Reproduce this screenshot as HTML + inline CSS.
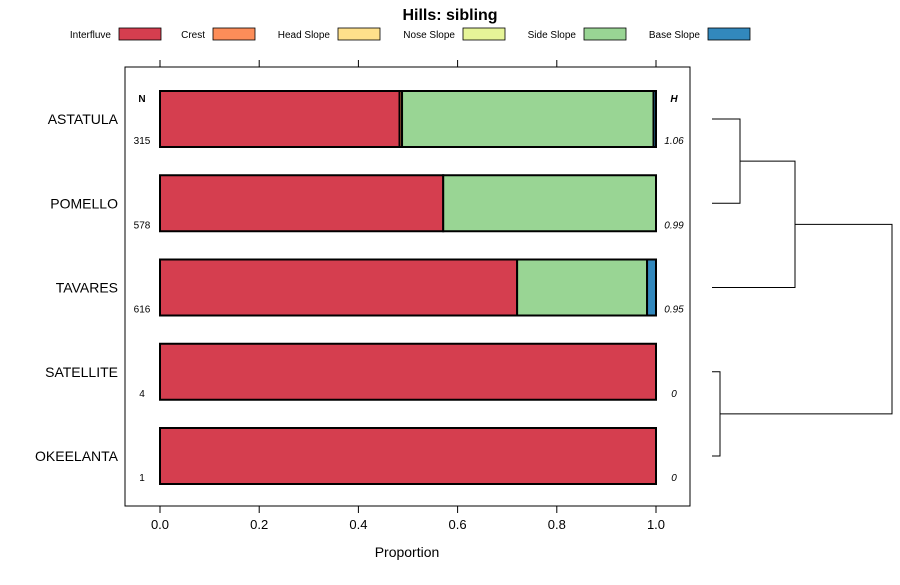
<!DOCTYPE html>
<html><head><meta charset="utf-8"><style>
body{margin:0;background:#fff;font-family:"Liberation Sans",sans-serif;}
svg text{font-family:"Liberation Sans",sans-serif;}
</style></head><body>
<svg id="c" width="900" height="580" xmlns="http://www.w3.org/2000/svg">
<text x="450" y="20" text-anchor="middle" font-size="16" font-weight="bold">Hills: sibling</text>
<g id="legend"></g>
<rect x="125" y="67" width="565" height="439" fill="none" stroke="#000"/>
<g id="axes"></g><g id="bars"></g><g id="dendro"></g>
<text x="407" y="557" text-anchor="middle" font-size="14">Proportion</text>
<text x="142" y="102" text-anchor="middle" font-size="10" font-weight="bold">N</text>
<text x="674" y="102" text-anchor="middle" font-size="10" font-weight="bold" font-style="italic">H</text>
</svg>
<script>
const categories=["ASTATULA","POMELLO","TAVARES","SATELLITE","OKEELANTA"];
const seriesNames=["Interfluve","Crest","Head Slope","Nose Slope","Side Slope","Base Slope"];
const colors=["#d53e4f","#fc8d59","#fee08b","#e6f598","#99d594","#3288bd"];
const interfluve=[0.483,0.571,0.72,1,1];
const crest=[0.005,0,0,0,0];
const headSlope=[0,0,0,0,0];
const noseSlope=[0,0,0,0,0];
const sideSlope=[0.507,0.429,0.262,0,0];
const baseSlope=[0.005,0,0.018,0,0];
const counts=[315,578,616,4,1];
const entropy=["1.06","0.99","0.95","0","0"];
const xTicks=[0,0.2,0.4,0.6,0.8,1.0];
const xTickLabels=["0.0","0.2","0.4","0.6","0.8","1.0"];
const series=[interfluve,crest,headSlope,noseSlope,sideSlope,baseSlope];
const NS="http://www.w3.org/2000/svg";
const x=v=>160+v*496;
const yc=i=>119+i*84.25;
function mk(tag,attrs,parent,txt){const e=document.createElementNS(NS,tag);for(const k in attrs)e.setAttribute(k,attrs[k]);if(txt!==undefined)e.textContent=txt;parent.appendChild(e);return e;}
const legend=document.getElementById('legend');
const legX=[111,205,330,455,576,700];
seriesNames.forEach((n,i)=>{
 const t=mk('text',{x:legX[i],y:38,'text-anchor':'end','font-size':10},legend,n);
 
 
 const r=mk('rect',{x:legX[i]+8,y:28,width:42,height:12,fill:colors[i],stroke:'#000','stroke-width':0.8},legend);
 
 
});
const axes=document.getElementById('axes');
xTicks.forEach((v,i)=>{
 mk('line',{x1:x(v),x2:x(v),y1:60,y2:67,stroke:'#000'},axes);
 mk('line',{x1:x(v),x2:x(v),y1:506,y2:513,stroke:'#000'},axes);
 const t=mk('text',{x:x(v),y:529,'text-anchor':'middle','font-size':13},axes,xTickLabels[i]);
 
 
});
const bars=document.getElementById('bars');
categories.forEach((c,i)=>{
 const lab=mk('text',{x:118,y:yc(i)+5,'text-anchor':'end','font-size':14},bars,c);
 
 
 let cum=0;
 series.forEach((s,j)=>{
  const v=s[i]; if(v<=0)return;
  const r=mk('rect',{x:x(cum),y:yc(i)-28,width:v*496,height:56,fill:colors[j],stroke:'#000','stroke-width':2},bars);
  
  
  cum+=v;
 });
 const n=mk('text',{x:142,y:yc(i)+25,'text-anchor':'middle','font-size':10},bars,counts[i]);
 
 
 const h=mk('text',{x:674,y:yc(i)+25,'text-anchor':'middle','font-size':10,'font-style':'italic'},bars,entropy[i]);
 
 
});
const d=document.getElementById('dendro');
const st={stroke:'#000','stroke-width':1,fill:'none'};
function L(pts){mk('polyline',Object.assign({points:pts.map(p=>p.join(',')).join(' ')},st),d);}
const y=yc;
L([[712,y(0)],[740,y(0)],[740,y(1)],[712,y(1)]]);
const m1=(y(0)+y(1))/2;
L([[740,m1],[795,m1],[795,y(2)],[712,y(2)]]);
L([[712,y(3)],[720,y(3)],[720,y(4)],[712,y(4)]]);
const m2=(m1+y(2))/2, m3=(y(3)+y(4))/2;
L([[795,m2],[892,m2],[892,m3],[720,m3]]);
</script>
</body></html>
